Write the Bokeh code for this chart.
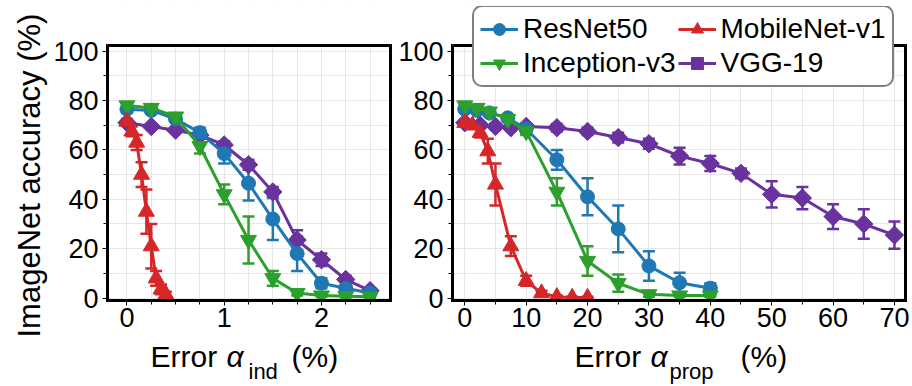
from bokeh.plotting import figure
from bokeh.layouts import row, column
from bokeh.models import (Range1d, SingleIntervalTicker, FixedTicker, Whisker, TeeHead,
                          ColumnDataSource, Legend, LegendItem, Label, LinearAxis,
                          Span, BoxAnnotation, Title)
from bokeh.embed import file_html
from bokeh.resources import INLINE

# ---------------- data ----------------
ind_x = [0, 0.25, 0.5, 0.75, 1.0, 1.25, 1.5, 1.75, 2.0, 2.25, 2.5]
resnet_ind = [76.5, 76, 72.5, 67, 58.5, 46.5, 32, 18, 6, 4, 2]
resnet_ind_err = [1, 1, 1, 2, 4, 7, 8.5, 7, 2, 1, 0.5]
inception_ind = [78, 77, 73.5, 61.5, 42, 23.5, 8, 2, 1, 0.7, 0.5]
inception_ind_err = [1, 1, 1, 3, 4, 9.5, 3, 1, 0.5, 0.5, 0.5]
vgg_ind = [71, 69.5, 68, 66, 62, 54, 43, 23.5, 15.5, 7.5, 3]
vgg_ind_err = [1, 1, 1, 1, 1.5, 2, 2, 4, 2.5, 1.5, 1]
mobilenet_ind_x = [0, 0.05, 0.1, 0.15, 0.2, 0.25, 0.3, 0.35, 0.4]
mobilenet_ind = [71.5, 67.5, 63, 50, 35, 21, 8, 3.5, 1.5]
mobilenet_ind_err = [1, 2, 3, 5, 9, 9, 3, 2, 1]

prop_x = [0, 2, 4, 7, 10, 15, 20, 25, 30, 35, 40]
resnet_prop = [76.5, 76, 75, 73, 68.5, 56, 41, 28, 13, 6.2, 4]
resnet_prop_err = [1, 1, 1, 1, 1.5, 4, 7.5, 9.5, 6, 4, 2]
inception_prop = [78, 77, 75.5, 72.5, 67.5, 43, 15, 6, 1.5, 1, 1]
inception_prop_err = [1, 1, 1, 1, 1.5, 5.5, 6, 3.5, 1, 0.5, 0.5]
mobilenet_prop_x = [0, 1.25, 2.5, 3.75, 5, 7.5, 10, 12.5, 15, 17.5, 20]
mobilenet_prop = [71, 70, 67, 59.5, 46, 21, 7, 2, 0.5, 0.2, 0.2]
mobilenet_prop_err = [1, 1.5, 2, 5, 8.5, 4, 2, 1, 0.5, 0.3, 0.3]
vgg_prop_x = [0, 2.5, 5, 7.5, 10, 15, 20, 25, 30, 35, 40, 45, 50, 55, 60, 65, 70]
vgg_prop = [71, 70, 69.5, 69, 69.5, 69, 67.5, 65, 62.5, 57.5, 54.5, 50.5, 42, 40.5, 33, 30, 25.5]
vgg_prop_err = [1, 1, 1, 1, 1, 1.5, 1.5, 2, 2, 3.4, 3, 2, 5.3, 4.5, 5, 6, 5.5]

series_names = ["ResNet50", "MobileNet-v1", "Inception-v3", "VGG-19"]
y_label = "ImageNet accuracy (%)"
x_label_main = "Error"
x_label_sym = "α"
x_label_subs = ["ind", "prop"]
x_label_unit = "(%)"

FONT = "Liberation Sans"
BLUE, RED, GREEN, PURPLE = "#1f77b4", "#d62728", "#2ca02c", "#6a329f"
GRID = "#e6e6e6"

Y0, Y1 = -1, 102.3          # visible y limits of both panels
BOX_TOP = 45                # px, top edge of the visible panel boxes
BOX_BOTTOM = 300            # px, bottom edge
TOP_BORDER = 6              # frames start here so the legend can rise above the box
BOTTOM_BORDER = 38
FRAME_H = BOX_BOTTOM - TOP_BORDER
Y_TOP = Y0 + (Y1 - Y0) * FRAME_H / (BOX_BOTTOM - BOX_TOP)


def style_axis(ax):
    ax.axis_line_color = "black"
    ax.axis_line_width = 3
    ax.axis_line_cap = "square"
    ax.major_tick_in = 0
    ax.major_tick_out = 5
    ax.minor_tick_in = 0
    ax.minor_tick_out = 4
    ax.major_tick_line_color = "black"
    ax.minor_tick_line_color = "black"
    ax.major_label_text_font = FONT
    ax.major_label_text_font_size = "27px"
    ax.major_label_text_color = "black"
    ax.major_label_standoff = 2


def make_fig(xr, frame_w, bl, br, x_int, x_minor):
    p = figure(frame_width=frame_w, frame_height=FRAME_H,
               min_border_left=bl, min_border_right=br,
               min_border_top=TOP_BORDER, min_border_bottom=BOTTOM_BORDER,
               x_range=Range1d(*xr), y_range=Range1d(Y0, Y_TOP),
               output_backend="svg", toolbar_location=None)
    p.background_fill_color = "white"
    p.border_fill_color = "white"
    p.outline_line_color = None
    p.xaxis.ticker = SingleIntervalTicker(interval=x_int, num_minor_ticks=x_minor)
    p.yaxis.ticker = SingleIntervalTicker(interval=20, num_minor_ticks=2)
    style_axis(p.xaxis[0])
    style_axis(p.yaxis[0])
    p.yaxis.major_label_standoff = 4
    p.yaxis.bounds = (Y0, Y1)
    for g in (p.xgrid[0], p.ygrid[0]):
        g.grid_line_color = GRID
        g.minor_grid_line_color = GRID
        g.grid_line_width = 1
        g.minor_grid_line_width = 1
    p.ygrid.bounds = (Y0, Y1)
    rax = LinearAxis(ticker=FixedTicker(ticks=[]), bounds=(Y0, Y1),
                     major_label_text_font_size="0px", major_tick_out=0, minor_tick_out=0,
                     axis_line_color="black", axis_line_width=3, axis_line_cap="square")
    p.add_layout(rax, "right")
    # blank everything above the visible box and draw the box's top edge
    p.add_layout(BoxAnnotation(bottom=Y1, fill_color="white", fill_alpha=1.0, line_color=None))
    p.add_layout(Span(location=Y1, dimension="width", line_color="black", line_width=3))
    return p


def draw(p, x, y, err, color, marker, size, angle=0.0):
    src = ColumnDataSource(dict(x=x, y=y,
                                lo=[a - b for a, b in zip(y, err)],
                                hi=[a + b for a, b in zip(y, err)]))
    l = p.line("x", "y", source=src, line_color=color, line_width=3)
    w = Whisker(source=src, base="x", lower="lo", upper="hi",
                line_color=color, line_width=2.5,
                upper_head=TeeHead(size=12, line_color=color, line_width=2.5),
                lower_head=TeeHead(size=12, line_color=color, line_width=2.5))
    p.add_layout(w)
    s = p.scatter("x", "y", source=src, marker=marker, size=size, angle=angle,
                  fill_color=color, line_color=color)
    return [l, s]


DIAMOND = dict(marker="square", size=13, angle=0.785398)

# ---------------- left panel ----------------
p1 = make_fig((-0.2, 2.71), 283, 107, 5, 1, 4)
p1.add_layout(Title(text=y_label, align="left", offset=-37, standoff=8,
                    text_font=FONT, text_font_size="31px", text_font_style="normal",
                    text_color="black"), "left")
draw(p1, ind_x, vgg_ind, vgg_ind_err, PURPLE, **DIAMOND)
draw(p1, ind_x, resnet_ind, resnet_ind_err, BLUE, "circle", 14)
draw(p1, ind_x, inception_ind, inception_ind_err, GREEN, "inverted_triangle", 16)
draw(p1, mobilenet_ind_x, mobilenet_ind, mobilenet_ind_err, RED, "triangle", 16)

# ---------------- right panel ----------------
p2 = make_fig((-2, 71.8), 453, 57, 7, 10, 2)
rv = draw(p2, vgg_prop_x, vgg_prop, vgg_prop_err, PURPLE, **DIAMOND)
rb = draw(p2, prop_x, resnet_prop, resnet_prop_err, BLUE, "circle", 14)
rg = draw(p2, prop_x, inception_prop, inception_prop_err, GREEN, "inverted_triangle", 16)
rr = draw(p2, mobilenet_prop_x, mobilenet_prop, mobilenet_prop_err, RED, "triangle", 16)

legend = Legend(items=[LegendItem(label=series_names[0], renderers=rb),
                       LegendItem(label=series_names[1], renderers=rr),
                       LegendItem(label=series_names[2], renderers=rg),
                       LegendItem(label=series_names[3], renderers=rv)],
                location=(20, 213), orientation="horizontal", ncols=2,
                label_text_font=FONT, label_text_font_size="28px",
                label_text_color="black", label_standoff=5,
                glyph_width=38, glyph_height=30, label_height=30,
                padding=6, spacing=2, margin=0,
                border_line_color="black", border_line_width=2.5,
                background_fill_color="white", background_fill_alpha=1.0)
try:
    legend.border_radius = 10
except Exception:
    pass
p2.add_layout(legend)

# ---------------- strip with the x-axis titles ----------------
STRIP_H = 386 - TOP_BORDER - FRAME_H - BOTTOM_BORDER
strip = figure(width=912, height=STRIP_H, x_range=Range1d(0, 912), y_range=Range1d(0, STRIP_H),
               min_border=0, x_axis_location=None, y_axis_location=None,
               toolbar_location=None, output_backend="svg")
strip.outline_line_color = None
strip.grid.visible = False
strip.background_fill_color = "white"
strip.border_fill_color = "white"

MAIN_Y, SUB_Y = 30, 15


def xlabel(x0, sub, offs):
    kw = dict(text_font=FONT, text_color="black", text_baseline="alphabetic", text_align="left")
    strip.add_layout(Label(x=x0, y=MAIN_Y, text=x_label_main, text_font_size="30px", **kw))
    strip.add_layout(Label(x=x0 + offs[0], y=MAIN_Y, text=x_label_sym, text_font_size="30px",
                           text_font_style="italic", **kw))
    strip.add_layout(Label(x=x0 + offs[1], y=SUB_Y, text=sub, text_font_size="22px", **kw))
    strip.add_layout(Label(x=x0 + offs[2], y=MAIN_Y, text=x_label_unit, text_font_size="30px", **kw))


xlabel(150, x_label_subs[0], (76, 98, 141))
xlabel(574, x_label_subs[1], (76, 95, 166))

layout = column(row(p1, p2), strip)
open("out.html", "w").write(file_html(layout, INLINE))
